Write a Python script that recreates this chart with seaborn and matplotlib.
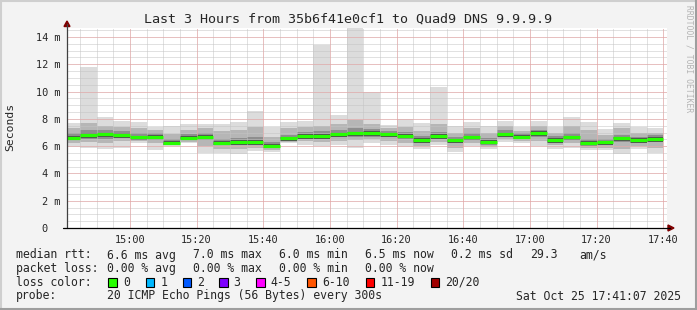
import matplotlib
matplotlib.use("Agg")
import matplotlib.pyplot as plt
import seaborn as sns
import numpy as np
import pandas as pd

# ---------------- data ----------------
# each 5-minute interval is labelled by its end time
bar_end = ["14:45", "14:50", "14:55", "15:00", "15:05", "15:10", "15:15", "15:20", "15:25",
           "15:30", "15:35", "15:40", "15:45", "15:50", "15:55", "16:00", "16:05", "16:10",
           "16:15", "16:20", "16:25", "16:30", "16:35", "16:40", "16:45", "16:50", "16:55",
           "17:00", "17:05", "17:10", "17:15", "17:20", "17:25", "17:30", "17:35", "17:40"]
median_ms = [6.62, 6.82, 6.87, 6.82, 6.65, 6.70, 6.25, 6.62, 6.70, 6.25, 6.30, 6.30,
             6.03, 6.57, 6.74, 6.74, 6.87, 6.94, 6.96, 6.87, 6.77, 6.45, 6.74, 6.43,
             6.65, 6.33, 6.87, 6.70, 6.97, 6.45, 6.65, 6.25, 6.27, 6.57, 6.45, 6.52]
smoke_max = [7.67, 11.83, 8.14, 7.84, 7.77, 7.43, 7.50, 7.65, 7.65, 7.65, 7.80, 8.58,
             7.43, 7.80, 7.87, 13.42, 8.28, 14.66, 10.00, 7.55, 7.97, 7.67, 10.34, 7.48,
             7.80, 7.50, 7.87, 7.43, 7.87, 7.43, 8.16, 7.80, 7.25, 7.72, 7.43, 7.30]
smoke_p90 = [7.30, 7.70, 7.50, 7.40, 7.30, 7.20, 6.90, 7.20, 7.30, 7.10, 7.20, 7.40,
             6.70, 7.30, 7.40, 7.50, 7.60, 7.90, 7.60, 7.30, 7.40, 7.10, 7.60, 7.00,
             7.30, 7.00, 7.50, 7.10, 7.50, 7.00, 7.50, 7.20, 6.80, 7.30, 7.00, 7.00]
smoke_p75 = [7.00, 7.20, 7.15, 7.10, 6.95, 6.95, 6.50, 6.90, 6.95, 6.55, 6.60, 6.65,
             6.30, 6.85, 7.05, 7.10, 7.15, 7.30, 7.25, 7.10, 7.05, 6.75, 7.05, 6.70,
             6.95, 6.60, 7.15, 6.95, 7.20, 6.75, 6.95, 6.55, 6.50, 6.85, 6.70, 6.80]
smoke_p25 = [6.45, 6.55, 6.55, 6.60, 6.45, 6.45, 6.10, 6.45, 6.45, 6.05, 6.10, 6.10,
             5.85, 6.40, 6.55, 6.55, 6.65, 6.70, 6.70, 6.65, 6.50, 6.25, 6.50, 6.20,
             6.45, 6.10, 6.65, 6.50, 6.70, 6.25, 6.45, 6.00, 6.05, 6.30, 6.25, 6.30]
smoke_p10 = [6.25, 6.30, 6.25, 6.35, 6.35, 6.20, 6.05, 6.30, 6.00, 5.80, 5.80, 5.90,
             5.70, 6.30, 6.35, 6.30, 6.40, 6.45, 6.50, 6.40, 6.25, 6.00, 6.30, 5.90,
             6.20, 5.95, 6.50, 6.35, 6.40, 6.05, 6.20, 5.85, 5.85, 5.80, 6.00, 5.90]
smoke_min = [5.96, 5.90, 5.77, 5.90, 6.20, 5.72, 6.00, 6.20, 5.47, 5.47, 5.42, 5.64,
             5.55, 6.20, 6.10, 6.00, 6.10, 5.90, 6.20, 6.10, 5.95, 5.80, 6.10, 5.60,
             6.00, 5.80, 6.30, 6.20, 6.00, 5.80, 5.90, 5.70, 5.70, 5.40, 5.80, 5.50]

x_ticks = ["15:00", "15:20", "15:40", "16:00", "16:20", "16:40", "17:00", "17:20", "17:40"]
y_ticks = [0, 2, 4, 6, 8, 10, 12, 14]
y_tick_labels = ["0  ", "2 m", "4 m", "6 m", "8 m", "10 m", "12 m", "14 m"]

title = "Last 3 Hours from 35b6f41e0cf1 to Quad9 DNS 9.9.9.9"
legend_rows = [
    ("median rtt:", ["6.6 ms avg", "7.0 ms max", "6.0 ms min", "6.5 ms now", "0.2 ms sd", "29.3", "am/s"]),
    ("packet loss:", ["0.00 % avg", "0.00 % max", "0.00 % min", "0.00 % now"]),
]
loss_labels = ["0", "1", "2", "3", "4-5", "6-10", "11-19", "20/20"]
loss_colors = ["#26ff00", "#00b8ff", "#0059ff", "#7e00ff", "#ff00ff", "#ff5500", "#ff0000", "#a10000"]
probe_text = "20 ICMP Echo Pings (56 Bytes) every 300s"
stamp_text = "Sat Oct 25 17:41:07 2025"
window_start, window_end = "14:41:07", "17:41:07"


def to_min(s):
    parts = [int(p) for p in s.split(":")]
    return parts[0] * 60 + parts[1] + (parts[2] / 60 if len(parts) > 2 else 0)


# ---------------- figure ----------------
sns.set_style("white")
plt.rcParams["font.family"] = ["DejaVu Sans Mono", "DejaVu Sans"]

W, H = 697, 310
BG = "#f3f3f3"
fig = plt.figure(figsize=(W / 100, H / 100), dpi=100, facecolor=BG)


def fx(px):
    return px / W


def fy(py):
    return 1 - py / H


ax = fig.add_axes([fx(67), fy(228), 600 / W, 200 / H])
ax.set_facecolor("white")

ends = np.array([to_min(s) for s in bar_end])
starts = ends - 5
df = pd.DataFrame({
    "start": starts, "end": ends, "med": median_ms,
    "mn": smoke_min, "p10": smoke_p10, "p25": smoke_p25,
    "p75": smoke_p75, "p90": smoke_p90, "mx": smoke_max,
})

layers = [("mn", "mx", "#dcdcdc"), ("p10", "p90", "#b6b6b6"), ("p25", "p75", "#8e8e8e")]
for lo, hi, col in layers:
    ax.bar(df["start"], df[hi] - df[lo], bottom=df[lo], width=5, align="edge",
           color=col, linewidth=0, zorder=1)

# dark core around the median
ax.bar(df["start"], 0.32, bottom=df["med"] - 0.20, width=5, align="edge",
       color="#505050", linewidth=0, zorder=1.5)

# median segments (one horizontal segment per interval)
seg = pd.DataFrame({
    "t": np.concatenate([df["start"], df["end"]]),
    "rtt": np.concatenate([df["med"], df["med"]]),
    "bar": np.concatenate([np.arange(len(df)), np.arange(len(df))]),
})
sns.lineplot(data=seg, x="t", y="rtt", units="bar", estimator=None, ax=ax,
             color=loss_colors[0], linewidth=2.3, solid_capstyle="butt", zorder=4,
             legend=False, sort=True)

ax.set_xlim(to_min(window_start), to_min(window_end))
ax.set_ylim(0, 14.66)

# grid
minor_x = np.arange(to_min("14:45"), to_min("17:41"), 5)
minor_y = np.arange(0, 14.7, 0.5)
for xv in minor_x:
    ax.axvline(xv, color="#c4c4c4", lw=0.72, ls=(0, (1, 1)), zorder=3)
for yv in minor_y:
    ax.axhline(yv, color="#c4c4c4", lw=0.72, ls=(0, (1, 1)), zorder=3)
for t in x_ticks:
    ax.axvline(to_min(t), color="#eea0a0", lw=0.72, ls=(0, (1, 1)), zorder=3.1)
for yv in y_ticks[1:]:
    ax.axhline(yv, color="#eea0a0", lw=0.72, ls=(0, (1, 1)), zorder=3.1)

for s in ax.spines.values():
    s.set_visible(False)
ax.set_xticks([to_min(t) for t in x_ticks])
ax.set_xticklabels(x_ticks)
ax.set_yticks(y_ticks)
ax.set_yticklabels(y_tick_labels)
ax.set_xticks(minor_x, minor=True)
ax.set_yticks(minor_y, minor=True)
ax.tick_params(axis="both", which="major", direction="inout", length=4, width=0.72,
               color="#404040", labelsize=7.4, pad=3)
ax.tick_params(axis="both", which="minor", direction="inout", length=2, width=0.72,
               color="#404040")
ax.set_xlabel("")
ax.set_ylabel("")

# axis lines with arrows
AX = "#404040"
fig.add_artist(plt.Line2D([fx(67), fx(67)], [fy(228), fy(24)], color=AX, lw=0.9))
fig.add_artist(plt.Line2D([fx(63), fx(670)], [fy(228), fy(228)], color="black", lw=0.9))
fig.add_artist(plt.Polygon([[fx(64), fy(26.5)], [fx(70), fy(26.5)], [fx(67), fy(21)]],
                           closed=True, color="#7f0000"))
fig.add_artist(plt.Polygon([[fx(668), fy(225)], [fx(668), fy(231)], [fx(674), fy(228)]],
                           closed=True, color="#7f0000"))

# texts
fig.text(fx(348.5), fy(19), title, ha="center", va="center", fontsize=9.6)
fig.text(fx(10), fy(127), "Seconds", rotation=90, ha="center", va="center", fontsize=8.2)
fig.text(fx(688.5), fy(5), "RRDTOOL / TOBI OETIKER", rotation=-90, ha="center", va="top",
         fontsize=5.8, color="#b4b4b4")

FS = 8.3
row_y = [255, 268.5, 282, 296]
col_x = [107.3, 193.3, 279.3, 365, 451, 530, 579]
for (lab, items), yy in zip(legend_rows, row_y[:2]):
    fig.text(fx(16), fy(yy), lab, ha="left", va="center", fontsize=FS)
    for it, xx in zip(items, col_x):
        fig.text(fx(xx), fy(yy), it, ha="left", va="center", fontsize=FS)

fig.text(fx(16), fy(row_y[2]), "loss color:", ha="left", va="center", fontsize=FS)
sw_x = [108.3, 145.7, 182.7, 219, 256, 307.3, 365.7, 430.7]
for lab, col, xx in zip(loss_labels, loss_colors, sw_x):
    fig.add_artist(plt.Rectangle((fx(xx), fy(row_y[2] + 4.5)), 8.5 / W, 9 / H,
                                 facecolor=col, edgecolor="black", lw=0.8))
    fig.text(fx(xx + 14.5), fy(row_y[2]), lab, ha="left", va="center", fontsize=FS)

fig.text(fx(16), fy(row_y[3]), "probe:", ha="left", va="center", fontsize=FS)
fig.text(fx(107.3), fy(row_y[3]), probe_text, ha="left", va="center", fontsize=FS)
fig.text(fx(680.5), fy(row_y[3]), stamp_text, ha="right", va="center", fontsize=FS)

# image frame (shade)
fig.add_artist(plt.Line2D([0, 1], [fy(1), fy(1)], color="#cfcfcf", lw=1.5))
fig.add_artist(plt.Line2D([fx(1), fx(1)], [0, 1], color="#cfcfcf", lw=1.5))
fig.add_artist(plt.Line2D([0, 1], [fy(309), fy(309)], color="#9e9e9e", lw=1.5))
fig.add_artist(plt.Line2D([fx(696), fx(696)], [0, 1], color="#9e9e9e", lw=1.5))

fig.savefig("out.png", dpi=100, facecolor=BG)
